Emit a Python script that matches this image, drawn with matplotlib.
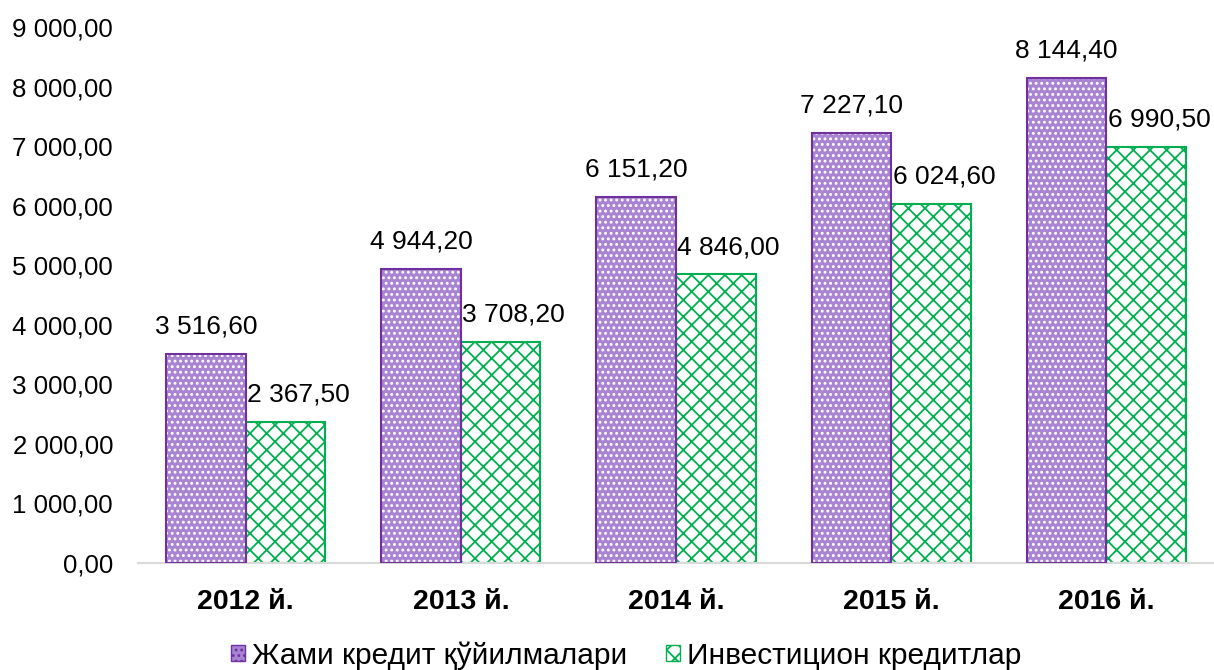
import matplotlib
matplotlib.use("Agg")
import matplotlib.pyplot as plt
import numpy as np
from matplotlib.patches import Patch

plt.rcParams['font.family'] = ['Liberation Sans', 'DejaVu Sans']
plt.rcParams['hatch.linewidth'] = 1.3

categories = ["2012 й.", "2013 й.", "2014 й.", "2015 й.", "2016 й."]
total_credit = [3516.6, 4944.2, 6151.2, 7227.1, 8144.4]
invest_credit = [2367.5, 3708.2, 4846.0, 6024.6, 6990.5]
series_names = ["Жами кредит қўйилмалари", "Инвестицион кредитлар"]
yticks = [0, 1000, 2000, 3000, 4000, 5000, 6000, 7000, 8000, 9000]

def fmt(v):
    s = f"{v:,.2f}"
    return s.replace(",", " ").replace(".", ",")

purple_edge = "#7030A0"
purple_face = "#A884D2"
green_edge = "#00B050"

fig = plt.figure(figsize=(12.14, 6.70), dpi=100)
ax = fig.add_axes([0.1137, 0.1597, 0.8863, 0.80])

x = np.arange(len(categories))
w = 0.37
# purple bars: fill with white hatch, then purple outline
ax.bar(x - w/2, total_credit, w, color=purple_face, edgecolor="white", hatch="...", linewidth=0, zorder=2)
ax.bar(x - w/2, total_credit, w, facecolor="none", edgecolor=purple_edge, linewidth=1.5, zorder=3)
# green bars
ax.bar(x + w/2, invest_credit, w, color="white", edgecolor=green_edge, hatch="xx", linewidth=1.5, zorder=2)

for xi, v in zip(x - w/2, total_credit):
    ax.annotate(fmt(v), (xi, v), xytext=(0, 11), textcoords="offset points",
                ha="center", va="bottom", fontsize=19)
for xi, v in zip(x, invest_credit):
    ax.annotate(fmt(v), (xi, v), xytext=(1, 11), textcoords="offset points",
                ha="left", va="bottom", fontsize=19)

ax.set_xlim(-0.5, len(categories) - 0.5)
ax.set_ylim(0, 9000)
ax.set_yticks(yticks)
ax.set_yticklabels([fmt(v) for v in yticks], fontsize=18.6)
ax.set_xticks(x)
ax.set_xticklabels(categories, fontsize=20.5, fontweight="bold")
ax.tick_params(axis="both", length=0)
ax.tick_params(axis="y", pad=18)
ax.tick_params(axis="x", pad=19)
for s in ["top", "right", "left"]:
    ax.spines[s].set_visible(False)
ax.spines["bottom"].set_color("#D9D9D9")
ax.spines["bottom"].set_linewidth(1.5)

handles = [Patch(facecolor=purple_face, edgecolor=purple_edge, hatch="...", label=series_names[0]),
           Patch(facecolor="white", edgecolor=green_edge, hatch="xx", label=series_names[1])]
fig.legend(handles=handles, loc="center", bbox_to_anchor=(0.516, 0.022), ncol=2, frameon=False,
           fontsize=21.5, handlelength=0.45, handleheight=0.45, handletextpad=0.25, columnspacing=1.3)

fig.savefig("out.png", dpi=100)
